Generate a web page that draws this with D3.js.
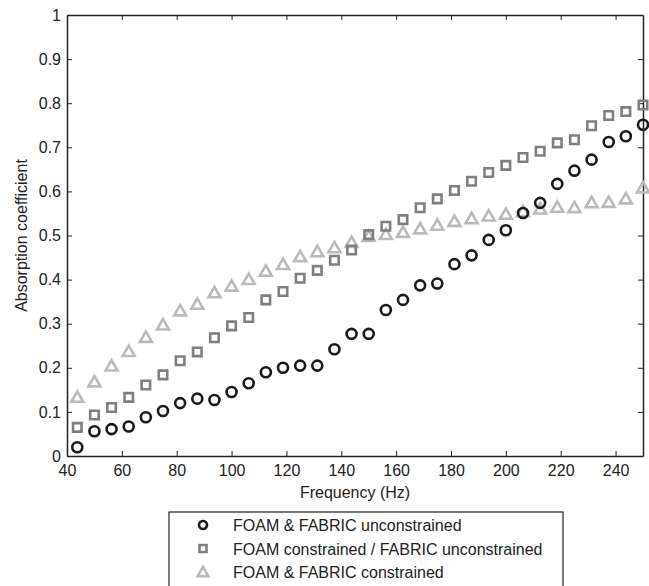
<!DOCTYPE html>
<html>
<head>
<meta charset="utf-8">
<script src="https://cdn.jsdelivr.net/npm/d3@7"></script>
<style>
	body { margin: 0; background: #fff; }
	.chart text { font-family: "Liberation Sans", Arial, sans-serif; fill: #222; }
</style>
</head>
<body>
<svg class="chart"></svg>
<script>
var freqs = [43.75, 50, 56.25, 62.5, 68.75, 75, 81.25, 87.5, 93.75, 100, 106.25, 112.5,
	118.75, 125, 131.25, 137.5, 143.75, 150, 156.25, 162.5, 168.75, 175, 181.25, 187.5,
	193.75, 200, 206.25, 212.5, 218.75, 225, 231.25, 237.5, 243.75, 250];
var bothFree = [0.02, 0.056, 0.061, 0.067, 0.088, 0.102, 0.12, 0.13, 0.127, 0.145, 0.165, 0.19,
	0.2, 0.205, 0.205, 0.242, 0.277, 0.277, 0.331, 0.354, 0.387, 0.391, 0.435, 0.455,
	0.49, 0.512, 0.551, 0.574, 0.617, 0.647, 0.672, 0.712, 0.725, 0.751];
var foamFixed = [0.065, 0.093, 0.11, 0.133, 0.161, 0.184, 0.216, 0.236, 0.268, 0.295, 0.314, 0.354,
	0.373, 0.403, 0.421, 0.444, 0.467, 0.502, 0.521, 0.536, 0.563, 0.583, 0.602, 0.623,
	0.643, 0.659, 0.677, 0.691, 0.71, 0.717, 0.749, 0.772, 0.781, 0.796];
var bothFixed = [0.133, 0.168, 0.204, 0.237, 0.269, 0.297, 0.329, 0.344, 0.37, 0.385, 0.4, 0.419,
	0.434, 0.452, 0.463, 0.472, 0.484, 0.498, 0.502, 0.507, 0.515, 0.523, 0.532, 0.538,
	0.544, 0.548, 0.554, 0.56, 0.564, 0.563, 0.574, 0.575, 0.583, 0.608];
var seriesNames = ['FOAM & FABRIC unconstrained', 'FOAM constrained / FABRIC unconstrained', 'FOAM & FABRIC constrained'];
var xTicks = [40, 60, 80, 100, 120, 140, 160, 180, 200, 220, 240];
var yTicks = [0, 0.1, 0.2, 0.3, 0.4, 0.5, 0.6, 0.7, 0.8, 0.9, 1];

var W = 649, H = 586;
var margin = {top: 15, right: 6, bottom: 130, left: 67};
var width = W - margin.left - margin.right,
	height = H - margin.top - margin.bottom;

var svg = d3.select('.chart').attr('width', W).attr('height', H);
var chart = svg.append('g').attr('transform', 'translate(' + margin.left + ',' + margin.top + ')');

var x = d3.scaleLinear().domain([40, 250]).range([0, width]);
var y = d3.scaleLinear().domain([0, 1]).range([height, 0]);

var fmt = function(d){ return d === 0 || d === 1 ? String(d) : d3.format('.1f')(d); };

// axes, matlab style: ticks pointing inward, box all round
chart.append('g').attr('class', 'x axis')
	.attr('transform', 'translate(0,' + height + ')')
	.call(d3.axisBottom(x).tickValues(xTicks).tickSizeInner(-5).tickSizeOuter(0).tickPadding(9));
chart.append('g').attr('class', 'x2 axis')
	.call(d3.axisTop(x).tickValues(xTicks).tickSizeInner(-5).tickSizeOuter(0).tickFormat(''));
chart.append('g').attr('class', 'y axis')
	.call(d3.axisLeft(y).tickValues(yTicks).tickFormat(fmt).tickSizeInner(-5).tickSizeOuter(0).tickPadding(6));
chart.append('g').attr('class', 'y2 axis')
	.attr('transform', 'translate(' + width + ',0)')
	.call(d3.axisRight(y).tickValues(yTicks).tickSizeInner(-5).tickSizeOuter(0).tickFormat(''));

chart.selectAll('.axis path').attr('stroke', '#222').attr('stroke-width', 1.5);
chart.selectAll('.axis line').attr('stroke', '#222');
chart.selectAll('.axis text').style('font-size', '16px').style('fill', '#222')
	.style('font-family', '"Liberation Sans", Arial, sans-serif');

var tri = d3.symbol().type(d3.symbolTriangle).size(62);
var sq = d3.symbol().type(d3.symbolSquare).size(72);

// series
chart.append('g').selectAll('path')
	.data(freqs)
	.enter().append('path')
	.attr('d', tri)
	.attr('transform', function(d, i){ return 'translate(' + x(d) + ',' + (y(bothFixed[i]) + 1) + ')'; })
	.attr('fill', 'none').attr('stroke', '#bababa').attr('stroke-width', 2.6);

chart.append('g').selectAll('path')
	.data(freqs)
	.enter().append('path')
	.attr('d', sq)
	.attr('transform', function(d, i){ return 'translate(' + x(d) + ',' + y(foamFixed[i]) + ')'; })
	.attr('fill', 'none').attr('stroke', '#7f7f7f').attr('stroke-width', 2.6);

chart.append('g').selectAll('circle')
	.data(freqs)
	.enter().append('circle')
	.attr('cx', function(d){ return x(d); })
	.attr('cy', function(d, i){ return y(bothFree[i]); })
	.attr('r', 5)
	.attr('fill', 'none').attr('stroke', '#1a1a1a').attr('stroke-width', 2.6);

// labels
svg.append('text')
	.attr('x', margin.left + width / 2).attr('y', 498)
	.attr('text-anchor', 'middle').style('font-size', '16px')
	.text('Frequency (Hz)');
svg.append('text')
	.attr('transform', 'translate(27,' + (margin.top + height / 2) + ') rotate(-90)')
	.attr('text-anchor', 'middle').style('font-size', '16px')
	.text('Absorption coefficient');

// legend
var legend = svg.append('g').attr('transform', 'translate(169,512)');
legend.append('rect')
	.attr('x', 0).attr('y', 0).attr('width', 394).attr('height', 90)
	.attr('fill', '#fff').attr('stroke', '#222').attr('stroke-width', 1.2);

var rows = legend.selectAll('.row')
	.data(seriesNames)
	.enter().append('g')
	.attr('class', 'row')
	.attr('transform', function(d, i){ return 'translate(0,' + (13 + i * 23.5) + ')'; });

rows.append('text')
	.attr('x', 64).attr('y', 6)
	.style('font-size', '16px')
	.text(function(d){ return d; });

rows.each(function(d, i){
	var g = d3.select(this);
	if(i === 0){
		g.append('circle').attr('cx', 34).attr('cy', 0).attr('r', 4)
			.attr('fill', 'none').attr('stroke', '#1a1a1a').attr('stroke-width', 2.6);
	}else if(i === 1){
		g.append('path').attr('d', d3.symbol().type(d3.symbolSquare).size(50))
			.attr('transform', 'translate(34,0)')
			.attr('fill', 'none').attr('stroke', '#7f7f7f').attr('stroke-width', 2.6);
	}else{
		g.append('path').attr('d', d3.symbol().type(d3.symbolTriangle).size(50))
			.attr('transform', 'translate(34,1)')
			.attr('fill', 'none').attr('stroke', '#bababa').attr('stroke-width', 2.6);
	}
});
</script>
</body>
</html>
